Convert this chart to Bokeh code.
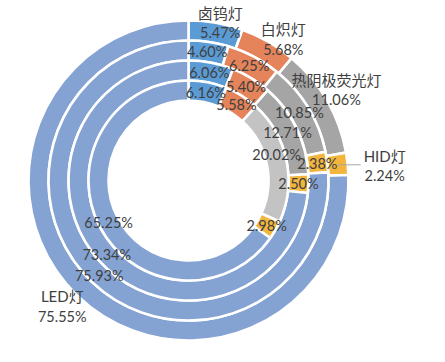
import numpy as np
from bokeh.plotting import figure
from bokeh.models import ColumnDataSource, Range1d
from bokeh.core.properties import value
from bokeh.embed import file_html
from bokeh.resources import INLINE

# ---- data (outer ring -> inner ring) ----
categories = ["卤钨灯", "白炽灯", "热阴极荧光灯", "HID灯", "LED灯"]
ring_1 = [5.47, 5.68, 11.06, 2.24, 75.55]
ring_2 = [4.60, 6.25, 10.85, 2.38, 75.93]
ring_3 = [6.06, 5.40, 12.71, 2.50, 73.34]
ring_4 = [6.16, 5.58, 20.02, 2.98, 65.25]
rings = [ring_1, ring_2, ring_3, ring_4]

# ---- styles / layout ----
base_colors = ["#5B9BD5", "#E5835A", "#A5A5A5", "#F2B53E", "#84A3D3"]
inner_grey = "#C3C3C3"
ring_outer_r = [160, 140, 120, 100]
ring_width = 20
# outer-ring label offsets (pixels: right, down) relative to segment middle
outer_lab_dx = [6, 20, 18, 47, -22]
outer_lab_dy = [0, -1, -6, 11, 28]
leader = [False, False, False, True, False]
inner_nudge_dy = [0, 0, -8, 0, 0]  # innermost ring small nudges (down positive)

W, H = 429, 346
cx, cy = 188, 180  # centre in figure pixels (from left / top)

p = figure(width=W, height=H, output_backend="svg", toolbar_location=None,
           x_range=Range1d(-cx, W - cx), y_range=Range1d(-(H - cy), cy),
           x_axis_type=None, y_axis_type=None, min_border=0)
p.grid.visible = False
p.outline_line_color = None
p.background_fill_color = "white"

FONT = value("Lato, 'Noto Sans CJK SC'")
TXT = "#404040"

lx, ly, lt = [], [], []
nx, ny, nt = [], [], []
for k, ring in enumerate(rings):
    vals = np.array(ring, dtype=float)
    frac = vals / vals.sum()
    cum = np.concatenate([[0.0], np.cumsum(frac)])
    ts = 2 * np.pi * cum[:-1]
    te = 2 * np.pi * cum[1:]
    tm = (ts + te) / 2
    cols = list(base_colors)
    if k == 3:
        cols[2] = inner_grey
    src = ColumnDataSource(dict(
        x=[0] * len(vals), y=[0] * len(vals),
        start=list(np.pi / 2 - ts), end=list(np.pi / 2 - te), color=cols))
    ro = ring_outer_r[k]
    p.annular_wedge(x="x", y="y", inner_radius=ro - ring_width, outer_radius=ro,
                    start_angle="start", end_angle="end", direction="clock",
                    fill_color="color", line_color="white", line_width=2.6, source=src)
    rm = ro - ring_width / 2
    for i, v in enumerate(vals):
        px = rm * np.sin(tm[i])
        py = rm * np.cos(tm[i])
        if k == 0:
            vx = px + outer_lab_dx[i]
            vy = py - outer_lab_dy[i]
            lx.append(vx); ly.append(vy); lt.append(f"{v:.2f}%")
            nx.append(vx); ny.append(vy + 20); nt.append(categories[i])
            if leader[i]:
                p.line(x=[px, vx - 24], y=[py, py], line_color="#A6A6A6", line_width=1)
        else:
            dy = inner_nudge_dy[i] if k == 3 else 0
            lx.append(px); ly.append(py - dy); lt.append(f"{v:.2f}%")

p.text(x=lx, y=ly, text=lt, text_font=FONT, text_font_size="14.5px",
       text_color=TXT, text_align="center", text_baseline="middle")
p.text(x=nx, y=ny, text=nt, text_font=FONT, text_font_size="15px",
       text_color=TXT, text_align="center", text_baseline="middle")

open("out.html", "w").write(file_html(p, INLINE))
